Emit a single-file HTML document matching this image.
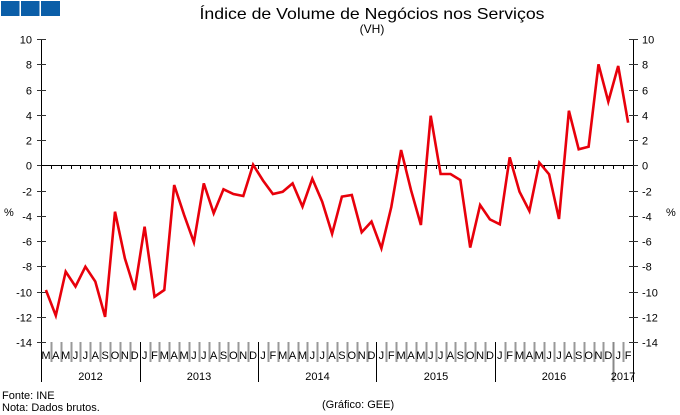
<!DOCTYPE html>
<html><head><meta charset="utf-8"><style>
html,body{margin:0;padding:0;background:#fff;}
svg{display:block;}
text{font-family:"Liberation Sans",Arial,sans-serif;fill:#000;}
</style></head><body>
<svg width="680" height="415" viewBox="0 0 680 415" xmlns="http://www.w3.org/2000/svg">
<rect x="1" y="1" width="18.5" height="15" fill="#0b5ea8"/>
<rect x="21" y="1" width="18.5" height="15" fill="#0b5ea8"/>
<rect x="41" y="1" width="19" height="15" fill="#0b5ea8"/>
<text x="372" y="19" font-size="16" text-anchor="middle" textLength="345" lengthAdjust="spacingAndGlyphs">Índice de Volume de Negócios nos Serviços</text>
<text x="372" y="33" font-size="12" text-anchor="middle">(VH)</text>
<g id="chart"></g>
<text x="2" y="399" font-size="11">Fonte: INE</text>
<text x="2" y="411" font-size="11">Nota: Dados brutos.</text>
<text x="322" y="408" font-size="11">(Gráfico: GEE)</text>
<text x="4" y="216" font-size="11">%</text>
<text x="666" y="216" font-size="11">%</text>
</svg>
<script>
(function(){
var ns="http://www.w3.org/2000/svg",g=document.getElementById("chart");
function el(t,a,txt){var e=document.createElementNS(ns,t);for(var k in a)e.setAttribute(k,a[k]);if(txt!=null)e.textContent=txt;g.appendChild(e);return e;}
var X0=41,X1=633,N=60,dx=(X1-X0)/N;
function Y(v){return 165.3-v*12.63;}
// axes
el("line",{x1:X0+0.5,y1:39,x2:X0+0.5,y2:382,stroke:"#000","stroke-width":1});
el("line",{x1:X1+0.5,y1:39,x2:X1+0.5,y2:382,stroke:"#000","stroke-width":1});
for(var v=10;v>=-14;v-=2){
 var y=Math.round(Y(v))+0.5;
 el("line",{x1:37,y1:y,x2:46,y2:y,stroke:"#333","stroke-width":1});
 el("line",{x1:629,y1:y,x2:638,y2:y,stroke:"#333","stroke-width":1});
 el("text",{x:32,y:y+4,"font-size":11,"text-anchor":"end"},String(v));
 el("text",{x:642,y:y+4,"font-size":11},String(v));
}
// zero line
el("line",{x1:X0,y1:165.5,x2:X1,y2:165.5,stroke:"#000","stroke-width":1});
var months="MAMJJASONDJFMAMJJASONDJFMAMJJASONDJFMAMJJASONDJFMAMJJASONDJF";
for(var i=1;i<N;i++){
 var x=Math.round(X0+i*dx)+0.5;
 el("line",{x1:x,y1:165,x2:x,y2:169,stroke:"#000","stroke-width":1});
 var isYear=months[i]=="J"&&months[i-1]=="D";
 if(isYear){
   var col=(i==58)?"#888":"#000";
   el("line",{x1:x,y1:342,x2:x,y2:382,stroke:col,"stroke-width":(i==58)?2:1});
 } else {
   el("line",{x1:x,y1:342,x2:x,y2:362,stroke:"#999","stroke-width":2});
 }
}
for(var i=0;i<N;i++){
 el("text",{x:X0+(i+0.5)*dx,y:359,"font-size":11,"text-anchor":"middle"},months[i]);
}
var years=[["2012",90.5],["2013",199],["2014",317.5],["2015",436],["2016",554],["2017",623]];
years.forEach(function(a){el("text",{x:a[1],y:380,"font-size":11,"text-anchor":"middle"},a[0]);});
var d=[-9.87,-11.9,-8.42,-9.6,-8.03,-9.2,-12.0,-3.67,-7.37,-9.87,-4.86,-10.4,-9.87,-1.56,-3.93,-6.1,-1.43,-3.8,-1.9,-2.27,-2.43,0.05,-1.2,-2.27,-2.1,-1.43,-3.27,-1.06,-2.88,-5.42,-2.48,-2.35,-5.3,-4.46,-6.57,-3.3,1.21,-1.96,-4.73,3.93,-0.69,-0.69,-1.16,-6.52,-3.14,-4.28,-4.67,0.63,-2.09,-3.62,0.21,-0.71,-4.25,4.32,1.27,1.47,8.0,5.04,7.86,3.37];
var pts=d.map(function(v,i){return (X0+(i+0.5)*dx).toFixed(1)+","+Y(v).toFixed(1);}).join(" ");
el("polyline",{points:pts,fill:"none",stroke:"#e8000b","stroke-width":2.6,"stroke-linejoin":"miter","stroke-miterlimit":4});
})();
</script>
</body></html>
